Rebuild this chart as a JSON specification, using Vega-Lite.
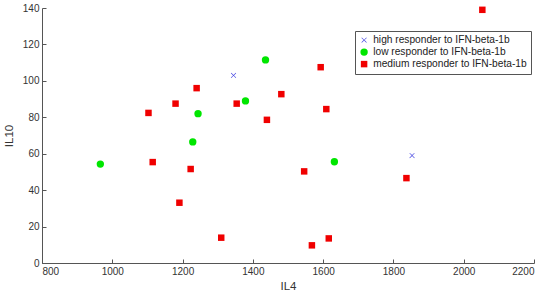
{
  "$schema": "https://vega.github.io/schema/vega-lite/v6.json",
  "width": 492,
  "height": 255,
  "autosize": {"type": "none"},
  "padding": {"left": 42, "top": 8, "right": 16, "bottom": 34},
  "background": "white",
  "config": {
    "font": "Liberation Sans",
    "view": {"stroke": null},
    "axis": {
      "grid": false,
      "domainColor": "#555",
      "tickColor": "#555",
      "labelColor": "#333",
      "titleColor": "#333",
      "labelFontSize": 10,
      "titleFontSize": 11.5,
      "titleFontWeight": "normal",
      "tickSize": -4,
      "labelPadding": 7,
      "format": "d"
    }
  },
  "data": {
    "values": [
      {"IL4": 1345, "IL10": 103, "group": "high responder to IFN-beta-1b"},
      {"IL4": 1853, "IL10": 59, "group": "high responder to IFN-beta-1b"},
      {"IL4": 1436, "IL10": 111.5, "group": "low responder to IFN-beta-1b"},
      {"IL4": 1379, "IL10": 89, "group": "low responder to IFN-beta-1b"},
      {"IL4": 1244, "IL10": 82, "group": "low responder to IFN-beta-1b"},
      {"IL4": 1229, "IL10": 66.5, "group": "low responder to IFN-beta-1b"},
      {"IL4": 966, "IL10": 54.3, "group": "low responder to IFN-beta-1b"},
      {"IL4": 1632, "IL10": 55.6, "group": "low responder to IFN-beta-1b"},
      {"IL4": 1240, "IL10": 96, "group": "medium responder to IFN-beta-1b"},
      {"IL4": 1180, "IL10": 87.5, "group": "medium responder to IFN-beta-1b"},
      {"IL4": 1354, "IL10": 87.5, "group": "medium responder to IFN-beta-1b"},
      {"IL4": 1481, "IL10": 92.7, "group": "medium responder to IFN-beta-1b"},
      {"IL4": 1103, "IL10": 82.4, "group": "medium responder to IFN-beta-1b"},
      {"IL4": 1440, "IL10": 78.6, "group": "medium responder to IFN-beta-1b"},
      {"IL4": 1115, "IL10": 55.4, "group": "medium responder to IFN-beta-1b"},
      {"IL4": 1223, "IL10": 51.6, "group": "medium responder to IFN-beta-1b"},
      {"IL4": 1191, "IL10": 33.1, "group": "medium responder to IFN-beta-1b"},
      {"IL4": 1310, "IL10": 13.9, "group": "medium responder to IFN-beta-1b"},
      {"IL4": 1593, "IL10": 107.5, "group": "medium responder to IFN-beta-1b"},
      {"IL4": 1609, "IL10": 84.5, "group": "medium responder to IFN-beta-1b"},
      {"IL4": 1546, "IL10": 50.3, "group": "medium responder to IFN-beta-1b"},
      {"IL4": 1837, "IL10": 46.6, "group": "medium responder to IFN-beta-1b"},
      {"IL4": 1616, "IL10": 13.5, "group": "medium responder to IFN-beta-1b"},
      {"IL4": 1568, "IL10": 9.7, "group": "medium responder to IFN-beta-1b"},
      {"IL4": 2053, "IL10": 139, "group": "medium responder to IFN-beta-1b"}
    ]
  },
  "mark": {"type": "point", "filled": true, "opacity": 1},
  "encoding": {
    "x": {
      "field": "IL4", "type": "quantitative", "title": "IL4",
      "scale": {"domain": [800, 2200], "nice": false, "zero": false},
      "axis": {"values": [800, 1000, 1200, 1400, 1600, 1800, 2000, 2200], "titlePadding": 4}
    },
    "y": {
      "field": "IL10", "type": "quantitative", "title": "IL10",
      "scale": {"domain": [0, 140], "nice": false},
      "axis": {"values": [0, 20, 40, 60, 80, 100, 120, 140], "titlePadding": 8}
    },
    "color": {
      "field": "group", "type": "nominal", "title": null,
      "scale": {
        "domain": ["high responder to IFN-beta-1b", "low responder to IFN-beta-1b", "medium responder to IFN-beta-1b"],
        "range": ["#4040e0", "#00e600", "#f00000"]
      },
      "legend": {
        "orient": "none",
        "legendX": 313,
        "legendY": 23,
        "strokeColor": "#555",
        "fillColor": "white",
        "padding": 4,
        "rowPadding": 1,
        "labelFontSize": 10.2,
        "labelColor": "#222",
        "labelOffset": 4,
        "symbolOpacity": 1,
        "symbolStrokeWidth": 0
      }
    },
    "shape": {
      "field": "group", "type": "nominal", "title": null,
      "scale": {
        "domain": ["high responder to IFN-beta-1b", "low responder to IFN-beta-1b", "medium responder to IFN-beta-1b"],
        "range": ["M0,-0.16L0.84,-1L1,-0.84L0.16,0L1,0.84L0.84,1L0,0.16L-0.84,1L-1,0.84L-0.16,0L-1,-0.84L-0.84,-1Z", "circle", "square"]
      }
    },
    "size": {
      "field": "group", "type": "nominal", "title": null,
      "scale": {
        "type": "ordinal",
        "domain": ["high responder to IFN-beta-1b", "low responder to IFN-beta-1b", "medium responder to IFN-beta-1b"],
        "range": [28, 54, 42]
      }
    }
  }
}
